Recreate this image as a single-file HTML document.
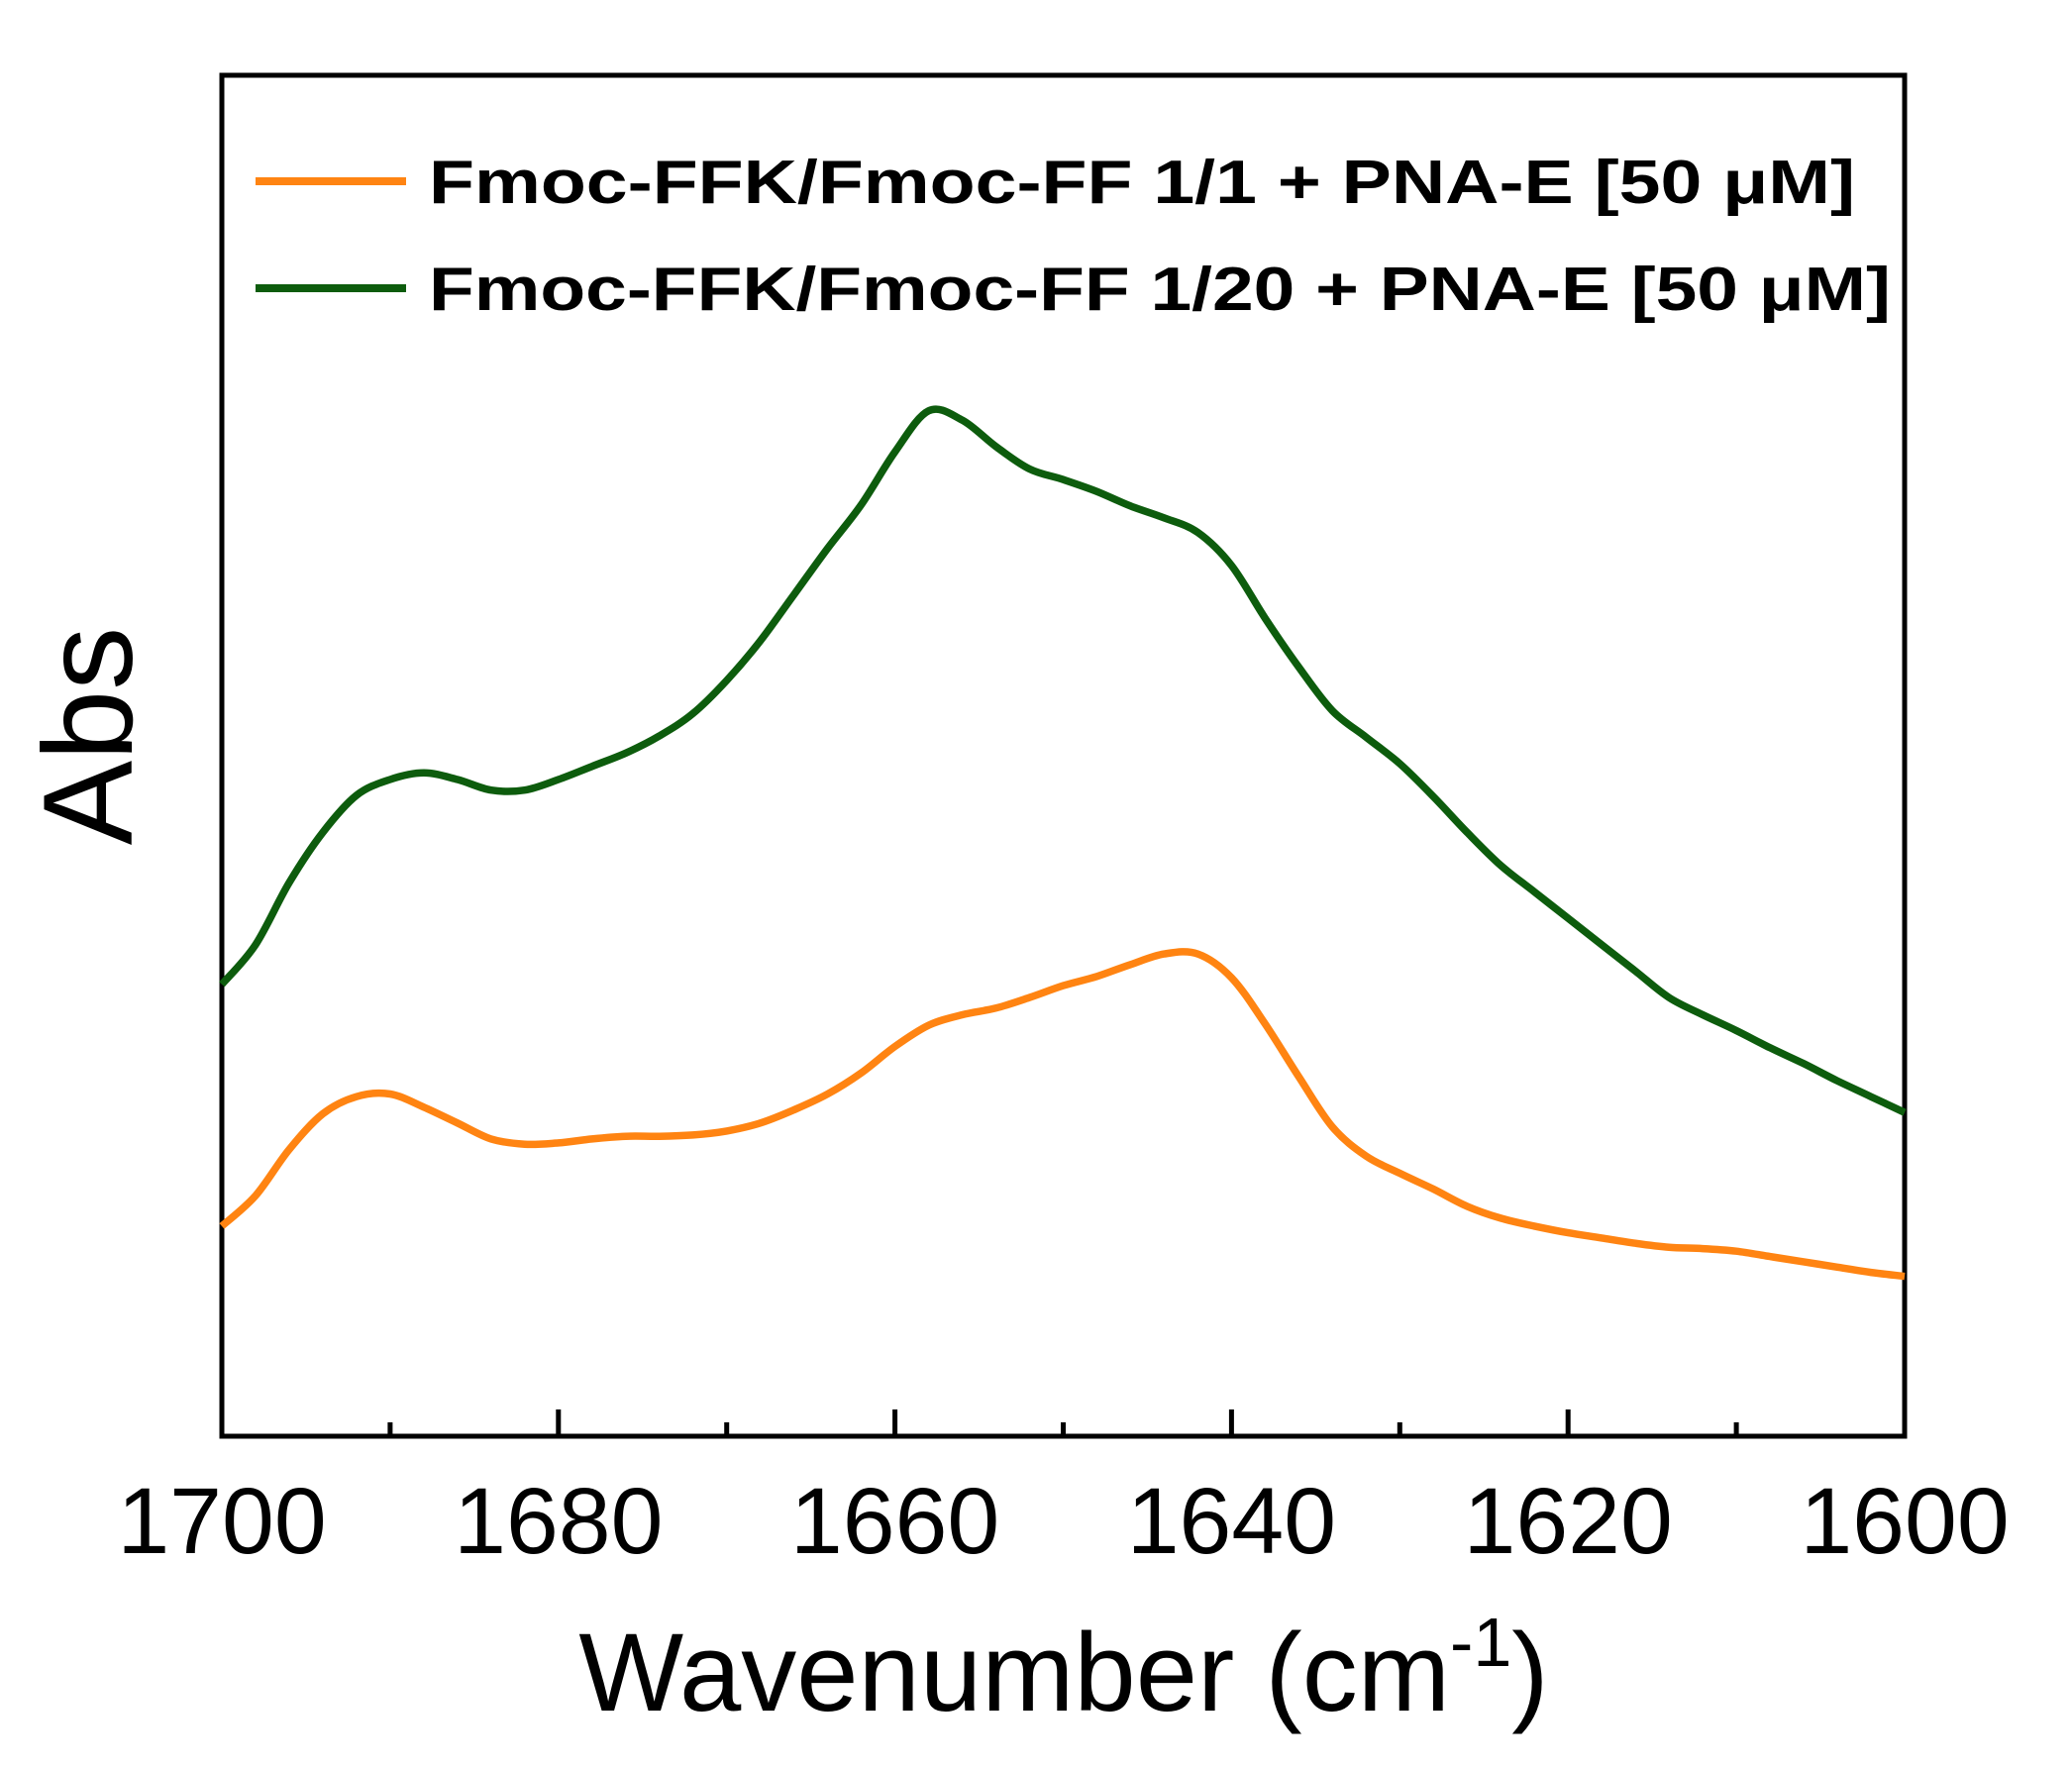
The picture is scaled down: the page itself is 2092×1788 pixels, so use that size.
<!DOCTYPE html>
<html><head><meta charset="utf-8"><style>
html,body{margin:0;padding:0;background:#fff}
svg{display:block}
text{font-family:"Liberation Sans",Arial,sans-serif;fill:#000}
</style></head><body>
<svg id="chart" width="2092" height="1788" viewBox="0 0 2092 1788" xmlns="http://www.w3.org/2000/svg">
<g id="axes"></g>
<g id="series"></g>
<g>
  <line x1="258" y1="183" x2="410" y2="183" stroke="#ff8412" stroke-width="8"/>
  <text x="433" y="205" font-size="62" font-weight="bold" textLength="1440" lengthAdjust="spacingAndGlyphs">Fmoc-FFK/Fmoc-FF 1/1 + PNA-E [50 μM]</text>
  <line x1="258" y1="291" x2="410" y2="291" stroke="#0d5c0d" stroke-width="8"/>
  <text x="433" y="313" font-size="62" font-weight="bold" textLength="1476" lengthAdjust="spacingAndGlyphs">Fmoc-FFK/Fmoc-FF 1/20 + PNA-E [50 μM]</text>
</g>
<text x="0" y="0" font-size="128" text-anchor="middle" transform="translate(133,743) rotate(-90)">Abs</text>
<text x="1074" y="1727" font-size="112" text-anchor="middle">Wavenumber (cm<tspan font-size="70" dy="-45">-1</tspan><tspan dy="45">)</tspan></text>
</svg>
<script>
const wavenumbers = [1700,1698,1696,1694,1692,1690,1688,1686,1684,1682,1680,1678,1676,1674,1672,1670,1668,1666,1664,1662,1660,1658,1656,1654,1652,1650,1648,1646,1644,1642,1640,1638,1636,1634,1632,1630,1628,1626,1624,1622,1620,1618,1616,1614,1612,1610,1608,1606,1604,1602,1600];
const green = [34.2,37.2,41.9,45.7,48.5,49.7,50.2,49.7,48.9,48.9,49.7,50.7,51.7,53.0,54.7,57.2,60.2,63.7,67.2,70.5,74.5,77.6,76.9,74.9,73.2,72.4,71.5,70.4,69.5,68.4,65.9,61.9,58.2,54.9,52.9,50.9,48.4,45.7,43.2,41.2,39.2,37.2,35.2,33.2,31.9,30.7,29.4,28.2,26.9,25.7,24.5];
const orange = [15.9,18.2,21.7,24.4,25.7,25.9,24.9,23.7,22.5,22.1,22.2,22.5,22.7,22.7,22.8,23.1,23.7,24.7,25.9,27.5,29.5,31.1,31.9,32.4,33.2,34.1,34.8,35.7,36.5,36.5,34.7,31.2,27.2,23.4,21.2,19.9,18.7,17.4,16.5,15.9,15.4,15.0,14.6,14.3,14.2,14.0,13.6,13.2,12.8,12.4,12.1];
const majorTicks = [1700,1680,1660,1640,1620,1600];
const minorTicks = [1690,1670,1650,1630,1610];
const tickLabels = ["1700","1680","1660","1640","1620","1600"];

const L=224,R=1923,T=76,B=1450;
const xDom=[1700,1600], yDom=[0,103];
const xs=v=>L+(v-xDom[0])/(xDom[1]-xDom[0])*(R-L);
const ys=v=>B-(v-yDom[0])/(yDom[1]-yDom[0])*(B-T);
const NS="http://www.w3.org/2000/svg";
const axes=document.getElementById('axes'), ser=document.getElementById('series');

function smoothPath(xv,yv){
  const p=xv.map((x,i)=>[xs(x),ys(yv[i])]);
  let d='M'+p[0][0]+','+p[0][1];
  for(let i=0;i<p.length-1;i++){
    const p0=p[Math.max(0,i-1)],p1=p[i],p2=p[i+1],p3=p[Math.min(p.length-1,i+2)];
    const c1=[p1[0]+(p2[0]-p0[0])/6,p1[1]+(p2[1]-p0[1])/6];
    const c2=[p2[0]-(p3[0]-p1[0])/6,p2[1]-(p3[1]-p1[1])/6];
    d+=' C'+c1[0].toFixed(1)+','+c1[1].toFixed(1)+' '+c2[0].toFixed(1)+','+c2[1].toFixed(1)+' '+p2[0].toFixed(1)+','+p2[1].toFixed(1);
  }
  return d;
}
const po=document.createElementNS(NS,'path');


po.setAttribute('d',smoothPath(wavenumbers,orange));
po.setAttribute('fill','none');po.setAttribute('stroke','#ff8412');po.setAttribute('stroke-width','7.5');
ser.appendChild(po);
const pg=document.createElementNS(NS,'path');


pg.setAttribute('d',smoothPath(wavenumbers,green));
pg.setAttribute('fill','none');pg.setAttribute('stroke','#0d5c0d');pg.setAttribute('stroke-width','7.5');
ser.appendChild(pg);

const frame=document.createElementNS(NS,'rect');


frame.setAttribute('x',L);frame.setAttribute('y',T);frame.setAttribute('width',R-L);frame.setAttribute('height',B-T);
frame.setAttribute('fill','none');frame.setAttribute('stroke','#000');frame.setAttribute('stroke-width','5');
axes.appendChild(frame);

majorTicks.forEach((t,i)=>{
  const ln=document.createElementNS(NS,'line');
  
  
  ln.setAttribute('x1',xs(t));ln.setAttribute('x2',xs(t));ln.setAttribute('y1',B);ln.setAttribute('y2',B-27);
  ln.setAttribute('stroke','#000');ln.setAttribute('stroke-width','5');
  axes.appendChild(ln);
  const tx=document.createElementNS(NS,'text');
  
  
  tx.setAttribute('x',xs(t));tx.setAttribute('y',1568);tx.setAttribute('font-size','95');tx.setAttribute('text-anchor','middle');
  tx.textContent=tickLabels[i];
  axes.appendChild(tx);
});
minorTicks.forEach(t=>{
  const ln=document.createElementNS(NS,'line');
  
  
  ln.setAttribute('x1',xs(t));ln.setAttribute('x2',xs(t));ln.setAttribute('y1',B);ln.setAttribute('y2',B-14);
  ln.setAttribute('stroke','#000');ln.setAttribute('stroke-width','5');
  axes.appendChild(ln);
});
</script>
</body></html>
